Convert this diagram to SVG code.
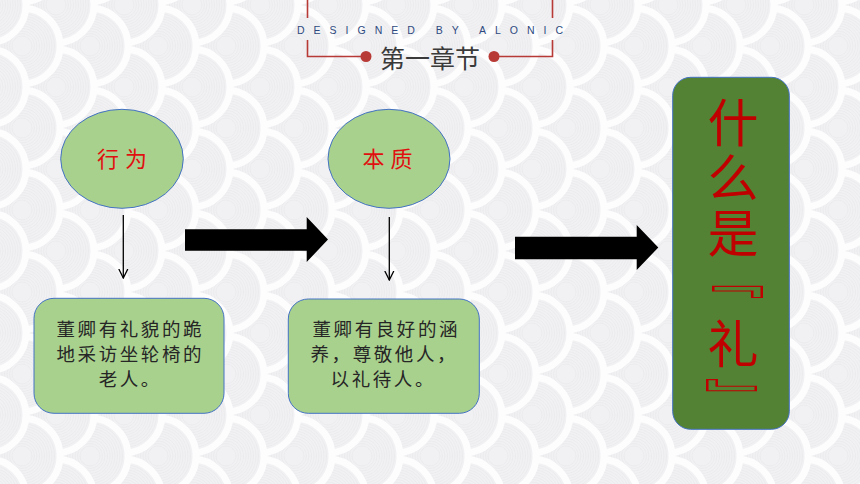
<svg xmlns="http://www.w3.org/2000/svg" xmlns:xlink="http://www.w3.org/1999/xlink" width="860" height="484" viewBox="0 0 860 484">
<style>
.cjk{font-family:"Noto Sans CJK SC","Noto Sans",sans-serif;}
.oval{fill:#a9d18e;stroke:#4472c4;stroke-width:1;}
.box{fill:#a9d18e;stroke:#4472c4;stroke-width:1;}
.lbl{font-size:22px;fill:#e01010;letter-spacing:6px;}
.body{font-size:18.5px;fill:#262626;letter-spacing:2.6px;}
.hdr{stroke:#b83a36;stroke-width:1.6;fill:none;}
.thin{stroke:#000;stroke-width:1.3;fill:none;}
.fat{fill:#000;}
.big{font-size:51px;fill:#c00000;}
.mid{text-anchor:middle;dominant-baseline:central;}
</style>
<defs>
<g id="scale">
<circle r="38" fill="#f1f1f3" stroke="#fdfdfe" stroke-width="7"/>
<g fill="none" stroke="#e7e7eb" stroke-width="0.6">
<circle r="32.5"/><circle r="30"/><circle r="27.5"/><circle r="25"/><circle r="22.5"/><circle r="20"/><circle r="17.5"/><circle r="15"/><circle r="12.5"/><circle r="10"/>
</g>
</g>
<pattern id="seig" patternUnits="userSpaceOnUse" width="68" height="82" x="56" y="5">
<use xlink:href="#scale" x="102" y="-41"/><use xlink:href="#scale" x="102" y="41"/><use xlink:href="#scale" x="102" y="123"/>
<use xlink:href="#scale" x="68" y="0"/><use xlink:href="#scale" x="68" y="82"/>
<use xlink:href="#scale" x="34" y="-41"/><use xlink:href="#scale" x="34" y="41"/><use xlink:href="#scale" x="34" y="123"/>
<use xlink:href="#scale" x="0" y="0"/><use xlink:href="#scale" x="0" y="82"/>
<use xlink:href="#scale" x="-34" y="-41"/><use xlink:href="#scale" x="-34" y="41"/><use xlink:href="#scale" x="-34" y="123"/>
</pattern>
<marker id="open" markerWidth="10" markerHeight="12" refX="9" refY="5" orient="auto" markerUnits="userSpaceOnUse" viewBox="0 0 10 10">
<path d="M0,0.5 L9,5 L0,9.5" fill="none" stroke="#000" stroke-width="1.3"/>
</marker>
</defs>
<rect width="860" height="484" fill="#f1f1f3"/>
<rect width="860" height="484" fill="url(#seig)"/>

<g id="header">
<path class="hdr" d="M307.5,0 V18 M307.5,40 V56.5 H362 M552.5,0 V18 M552.5,40 V56.5 H498"/>
<circle cx="366" cy="56.5" r="5.5" fill="#b83a36"/>
<circle cx="494" cy="56.5" r="5.5" fill="#b83a36"/>
<text x="297" y="33.5" font-family="'Liberation Sans',Arial,sans-serif" font-size="10.5" fill="#2e4a80" textLength="266" lengthAdjust="spacing">DESIGNED BY ALONIC</text>
<text class="cjk" x="430" y="67.5" font-size="25" fill="#3a3a3a" text-anchor="middle">第一章节</text>
</g>

<g id="connectors">
<line class="thin" x1="123.3" y1="215" x2="123.3" y2="278" marker-end="url(#open)"/>
<line class="thin" x1="389.3" y1="217" x2="389.3" y2="280" marker-end="url(#open)"/>
<polygon class="fat" points="185,229.3 306.7,229.3 306.7,217 328,239.5 306.7,262 306.7,250.7 185,250.7"/>
<polygon class="fat" points="515,236.7 636.7,236.7 636.7,225 658.3,247.5 636.7,270 636.7,259.3 515,259.3"/>
</g>

<g id="node-xingwei">
<ellipse class="oval" cx="122" cy="158.8" rx="61.3" ry="49.5"/>
<text class="cjk lbl" x="125" y="167" text-anchor="middle">行为</text>
</g>

<g id="node-benzhi">
<ellipse class="oval" cx="389" cy="158.8" rx="61" ry="49.5"/>
<text class="cjk lbl" x="390.5" y="167" text-anchor="middle">本质</text>
</g>

<g id="node-box1">
<rect class="box" x="34" y="298.3" width="190" height="115" rx="20"/>
<text class="cjk body" text-anchor="middle"><tspan x="130.3" y="336">董卿有礼貌的跪</tspan><tspan x="130.3" y="361">地采访坐轮椅的</tspan><tspan x="130.3" y="386">老人。</tspan></text>
</g>

<g id="node-box2">
<rect class="box" x="288.3" y="299" width="191" height="114.3" rx="20"/>
<text class="cjk body" text-anchor="middle"><tspan x="386.3" y="336">董卿有良好的涵</tspan><tspan x="384.3" y="361">养，尊敬他人，</tspan><tspan x="383.3" y="386">以礼待人。</tspan></text>
</g>

<g id="node-li">
<rect x="672.7" y="77.3" width="116.6" height="352" rx="18" fill="#548235" stroke="#4472c4" stroke-width="1"/>
<text class="cjk big" x="733" y="97" writing-mode="vertical-rl" letter-spacing="4">什么是</text>
<text class="cjk big mid" transform="translate(731,282.5) rotate(90) scale(0.65,1.5)">『</text>
<text class="cjk big mid" x="733" y="341">礼</text>
<text class="cjk big mid" transform="translate(746,394.5) rotate(90) scale(0.65,1.5)">』</text>
</g>
</svg>
